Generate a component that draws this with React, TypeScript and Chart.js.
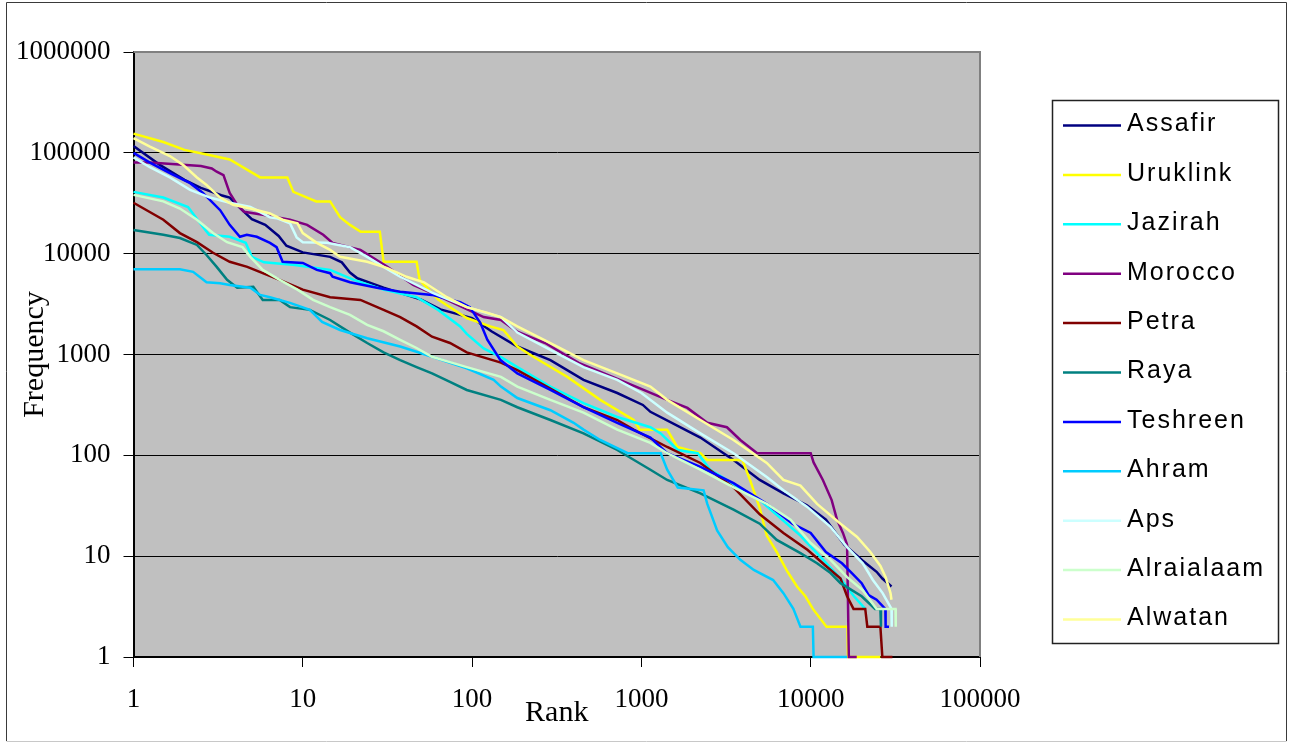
import React, { useEffect, useRef } from 'react';
import { Chart, registerables } from 'chart.js';

Chart.register(...registerables);

const seriesNames = ['Assafir', 'Uruklink', 'Jazirah', 'Morocco', 'Petra', 'Raya', 'Teshreen', 'Ahram', 'Aps', 'Alraialaam', 'Alwatan'];
const seriesColors = ['#000080', '#FFFF00', '#00FFFF', '#800080', '#800000', '#008080', '#0000FF', '#00CCFF', '#CCFFFF', '#CCFFCC', '#FFFF99'];
const xTicks = [1, 10, 100, 1000, 10000, 100000];
const yTicks = [1, 10, 100, 1000, 10000, 100000, 1000000];

// [rank, frequency]
const assafir: [number, number][] = [[1,117000],[1.43,76000],[2,54000],[2.5,45000],[3.3,38000],[3.7,36000],[4.3,28000],[5,22000],[6,19300],[7.2,15000],[8,12000],[10,10300],[14.5,9300],[17,8200],[19,6500],[21,5700],[30,4600],[50,3500],[65,2800],[100,2300],[130,1700],[185,1200],[290,880],[455,560],[720,415],[1020,316],[1130,270],[2230,150],[3500,90],[5000,57],[6900,42],[9500,32],[12300,23],[15800,13],[20300,9],[24500,7],[26500,6],[30000,5]];
const uruklink: [number, number][] = [[1,155000],[1.5,128000],[2,107000],[2.8,95000],[3.7,86000],[5.6,57000],[8.1,57000],[8.8,41000],[12,33000],[14.5,33000],[16.6,23000],[19,19300],[22,16500],[28.5,16500],[30,8300],[47,8300],[49,5500],[63,3500],[93,2300],[128,1900],[153,1750],[185,1200],[230,950],[365,600],[571,355],[900,224],[980,179],[1420,179],[1630,121],[2230,105],[2450,90],[3950,90],[4380,57],[5000,30],[5500,16],[6300,11],[7300,7],[8300,5],[9300,4],[10300,3],[12400,2],[16500,2],[16600,1],[25800,1]];
const jazirah: [number, number][] = [[1,41000],[1.5,36000],[2.1,29000],[2.6,18000],[2.8,15400],[3.7,14700],[4.6,12800],[5,9300],[5.9,8200],[9,7700],[14.5,6900],[20,5500],[30,4400],[47,3700],[63,2770],[85,1900],[93,1600],[117,1150],[150,930],[185,750],[290,480],[455,330],[720,240],[1130,190],[1300,165],[1640,113],[2150,105],[2550,72],[5000,36],[8700,16],[12000,9],[15000,6],[18000,4],[21000,3]];
const morocco: [number, number][] = [[1,80000],[1.25,80000],[2.5,74000],[2.9,70000],[3.1,65000],[3.4,60000],[3.7,40000],[4.1,30500],[4.5,26000],[5.8,24300],[8.4,21700],[10.6,19300],[13.2,15400],[15,12800],[21.9,10900],[31.6,7400],[44.9,4900],[71,3480],[117,2350],[148,2200],[185,1680],[270,1300],[426,825],[676,600],[1030,445],[1420,355],[1870,295],[2450,210],[3200,190],[3840,142],[4830,105],[10000,105],[10400,85],[11800,57],[13300,36],[14300,23],[15500,17],[16400,13],[16800,1],[18700,1]];
const petra: [number, number][] = [[1,32000],[1.5,21700],[1.88,16000],[2.37,13000],[2.95,10200],[3.7,8300],[4.7,7400],[5.8,6400],[7.3,5500],[10,4400],[14.5,3700],[21.9,3480],[30,2770],[37.6,2350],[47,1900],[58,1500],[74,1300],[93,1050],[148,830],[185,700],[290,460],[455,300],[720,224],[900,180],[1420,121],[2230,84],[3500,48],[5000,26],[6900,17],[9600,11.5],[12300,8],[15000,6],[16400,4],[17900,3],[21000,3],[21600,2],[25800,2],[26500,1],[30400,1]];
const raya: [number, number][] = [[1,17200],[1.5,15400],[1.88,14300],[2.37,12200],[2.7,9700],[3.1,7400],[3.57,5500],[4.1,4600],[5.1,4700],[5.8,3480],[7.3,3480],[8.4,2950],[11,2770],[14.5,2200],[19,1650],[24,1300],[30,1050],[37.6,880],[47,750],[58,650],[74,535],[93,445],[148,355],[185,300],[290,224],[455,165],[720,113],[1130,72],[1420,57],[2230,42],[3500,29],[5000,21],[6300,14.5],[8700,10.7],[10900,8.5],[13100,6.8],[15000,5.4],[20000,4],[24000,3],[25800,3],[26000,2]];
const teshreen: [number, number][] = [[1,100000],[1.25,80000],[1.64,63000],[2.16,50000],[2.57,40000],[3.25,27000],[3.7,19300],[4.25,14700],[4.67,15400],[5.35,14700],[6.4,12800],[7,11600],[7.6,8300],[10,8100],[12.1,6900],[14.5,6400],[15,5900],[19,5200],[27.4,4600],[37.6,4200],[58,3900],[85,3300],[97,2950],[112,2050],[123,1400],[147,880],[185,650],[290,445],[455,300],[720,210],[1130,150],[1420,105],[2230,77],[3500,53],[5500,33],[7800,21],[10000,17],[12300,11],[15300,8.5],[17500,6.8],[20000,5.4],[22000,4.1],[24500,3.7],[27600,3],[27700,2],[29000,2]];
const ahram: [number, number][] = [[1,7000],[1.88,7000],[2.25,6600],[2.7,5200],[3.25,5100],[3.7,4900],[4.9,4600],[5.6,3900],[6.4,3700],[8.4,3250],[11,2770],[13,2100],[16.6,1750],[24,1450],[37.6,1200],[58,950],[93,730],[134,560],[148,480],[185,370],[290,280],[398,210],[455,180],[571,142],[830,105],[1300,105],[1420,72],[1640,48],[2330,45],[2450,33],[2800,18],[3240,12.3],[3840,9.2],[4610,7.3],[6000,5.8],[6900,4.3],[7900,3],[8700,2],[10300,2],[10400,1],[16400,1]];
const aps: [number, number][] = [[1,90000],[1.25,72000],[1.64,57000],[2.16,43000],[2.83,36000],[3.7,32000],[4.9,29000],[6.4,23000],[7,22500],[8.4,20000],[9.2,14500],[10,13000],[13.9,12800],[19,11600],[24,9300],[30,7400],[37.6,5900],[58,4100],[93,2950],[148,2350],[185,1650],[290,1110],[455,750],[720,560],[1000,415],[1420,265],[2230,165],[3500,105],[5500,61],[6900,45],[9500,31],[13100,19.5],[16400,12.3],[20300,8.5],[23300,5.8],[26600,4.3],[30000,3],[30100,2]];
const alraialaam: [number, number][] = [[1,38300],[1.5,33000],[1.88,28000],[2.37,21700],[2.95,16000],[3.57,13000],[4.4,11600],[4.9,9300],[5.8,6900],[7.3,5500],[9.3,4400],[11.5,3480],[14.5,2950],[19,2470],[24,1970],[30,1700],[37.6,1400],[47,1160],[58,950],[74,840],[93,750],[148,600],[185,480],[290,355],[455,265],[720,180],[1130,133],[1420,105],[2230,72],[3500,48],[5500,33],[7600,23],[10000,13.5],[13100,9.2],[16400,6.2],[20300,4.6],[24500,3],[31700,3],[31800,2]];
const alwatan: [number, number][] = [[1,140000],[1.25,115000],[1.64,93000],[1.96,76000],[2.37,57000],[2.7,48000],[3.25,36000],[3.87,30500],[4.9,28000],[6.4,25000],[7.6,21700],[9.3,20000],[10,16000],[12.1,12800],[14.5,10900],[16.6,9300],[24,8300],[31.6,7200],[41,5900],[52,5200],[71,3700],[93,2950],[122,2600],[148,2350],[185,1900],[290,1300],[455,880],[720,650],[1130,480],[1420,355],[2230,224],[3500,142],[5500,84],[6900,57],[8700,50],[10900,33],[15000,21],[18800,15.5],[22500,11],[25800,8],[27700,6.2],[29600,4.3],[30000,3.7]];

const allSeries = [assafir, uruklink, jazirah, morocco, petra, raya, teshreen, ahram, aps, alraialaam, alwatan];

const W = 1289;
const H = 742;

const framePlugin = {
  id: 'frame',
  beforeDraw(chart: any) {
    const { ctx, chartArea } = chart;
    ctx.save();
    ctx.fillStyle = '#ffffff';
    ctx.fillRect(0, 0, W, H);
    ctx.fillStyle = '#C0C0C0';
    ctx.fillRect(chartArea.left, chartArea.top, chartArea.right - chartArea.left, chartArea.bottom - chartArea.top);
    ctx.lineWidth = 1;
    ctx.strokeStyle = '#3a3a3a';
    ctx.beginPath();
    ctx.moveTo(6.5, 741);
    ctx.lineTo(6.5, 2.5);
    ctx.lineTo(1286.5, 2.5);
    ctx.lineTo(1286.5, 741);
    ctx.stroke();
    ctx.strokeStyle = '#c8c8c8';
    ctx.beginPath();
    ctx.moveTo(6.5, 741.5);
    ctx.lineTo(1286.5, 741.5);
    ctx.stroke();
    ctx.restore();
  },
  beforeDatasetsDraw(chart: any) {
    const { ctx, chartArea } = chart;
    ctx.save();
    ctx.strokeStyle = '#808080';
    ctx.lineWidth = 2;
    ctx.beginPath();
    ctx.moveTo(chartArea.left, chartArea.top);
    ctx.lineTo(chartArea.right, chartArea.top);
    ctx.lineTo(chartArea.right, chartArea.bottom);
    ctx.stroke();
    ctx.restore();
  },
};

const legendPlugin = {
  id: 'boxLegend',
  afterDraw(chart: any) {
    const { ctx } = chart;
    ctx.save();
    ctx.strokeStyle = '#222';
    ctx.lineWidth = 1.5;
    ctx.strokeRect(1052.5, 100.5, 226, 543);
    chart.data.datasets.forEach((ds: any, i: number) => {
      const y = 125.5 + i * 49.4;
      ctx.strokeStyle = ds.borderColor;
      ctx.lineWidth = 2.5;
      ctx.beginPath();
      ctx.moveTo(1063, y);
      ctx.lineTo(1121, y);
      ctx.stroke();
      ctx.fillStyle = '#000';
      ctx.font = '25px "Liberation Sans", Arial, sans-serif';
      ctx.textBaseline = 'middle';
      ctx.textAlign = 'left';
      (ctx as any).letterSpacing = '2px';
      ctx.fillText(ds.label, 1127, y - 1);
    });
    ctx.restore();
  },
};

export default function App() {
  const ref = useRef<HTMLCanvasElement>(null);
  useEffect(() => {
    const canvas = ref.current;
    if (!canvas) return;
    const n = allSeries.length;
    const datasets = allSeries.map((s, i) => ({
      label: seriesNames[i],
      data: s.map(([x, y]) => ({ x, y })),
      borderColor: seriesColors[i],
      backgroundColor: seriesColors[i],
      borderWidth: 2.5,
      pointRadius: 0,
      pointHoverRadius: 0,
      tension: 0,
      fill: false,
      order: n - 1 - i,
      clip: 4,
    }));
    const serif = 'Liberation Serif, "Times New Roman", serif';
    const chart = new Chart(canvas, {
      type: 'line',
      data: { datasets } as any,
      options: {
        animation: false,
        responsive: false,
        devicePixelRatio: 1,
        layout: { padding: { left: 8, right: 309, top: 52, bottom: 11 } },
        plugins: {
          legend: { display: false },
          tooltip: { enabled: false },
        },
        scales: {
          x: {
            type: 'logarithmic',
            min: 1,
            max: 100000,
            afterBuildTicks: (s: any) => {
              s.ticks = xTicks.map((v) => ({ value: v }));
            },
            afterFit: (s: any) => {
              s.height = 74;
            },
            ticks: {
              autoSkip: false,
              maxRotation: 0,
              padding: 17,
              color: '#000',
              font: { family: serif, size: 27 },
              callback: (v: any) => String(v),
            },
            grid: {
              drawOnChartArea: false,
              drawTicks: true,
              tickLength: 10,
              color: '#000',
              lineWidth: 1,
            },
            border: { display: true, color: '#000', width: 2 },
            title: {
              display: true,
              text: 'Rank',
              color: '#000',
              font: { family: serif, size: 30 },
              padding: { top: 0, bottom: 0 },
            },
          },
          y: {
            type: 'logarithmic',
            min: 1,
            max: 1000000,
            afterBuildTicks: (s: any) => {
              s.ticks = yTicks.map((v) => ({ value: v }));
            },
            afterFit: (s: any) => {
              s.width = 125.5;
            },
            ticks: {
              autoSkip: false,
              padding: 13,
              color: '#000',
              font: { family: serif, size: 27 },
              callback: (v: any) => String(v),
            },
            grid: {
              drawOnChartArea: true,
              drawTicks: true,
              tickLength: 10,
              color: (c: any) => (c.tick && c.tick.value === 1000000 ? '#808080' : '#000'),
              tickColor: '#000',
              lineWidth: 1,
            },
            border: { display: true, color: '#000', width: 2 },
            title: {
              display: true,
              text: 'Frequency',
              color: '#000',
              font: { family: serif, size: 30 },
              padding: { top: 9, bottom: 0 },
            },
          },
        },
      } as any,
      plugins: [framePlugin, legendPlugin],
    });
    return () => chart.destroy();
  }, []);
  return (
    <div style={{ position: 'fixed', left: 0, top: 0, width: W, height: H, background: '#fff' }}>
      <canvas ref={ref} width={W} height={H} style={{ display: 'block', width: W, height: H }} />
    </div>
  );
}
